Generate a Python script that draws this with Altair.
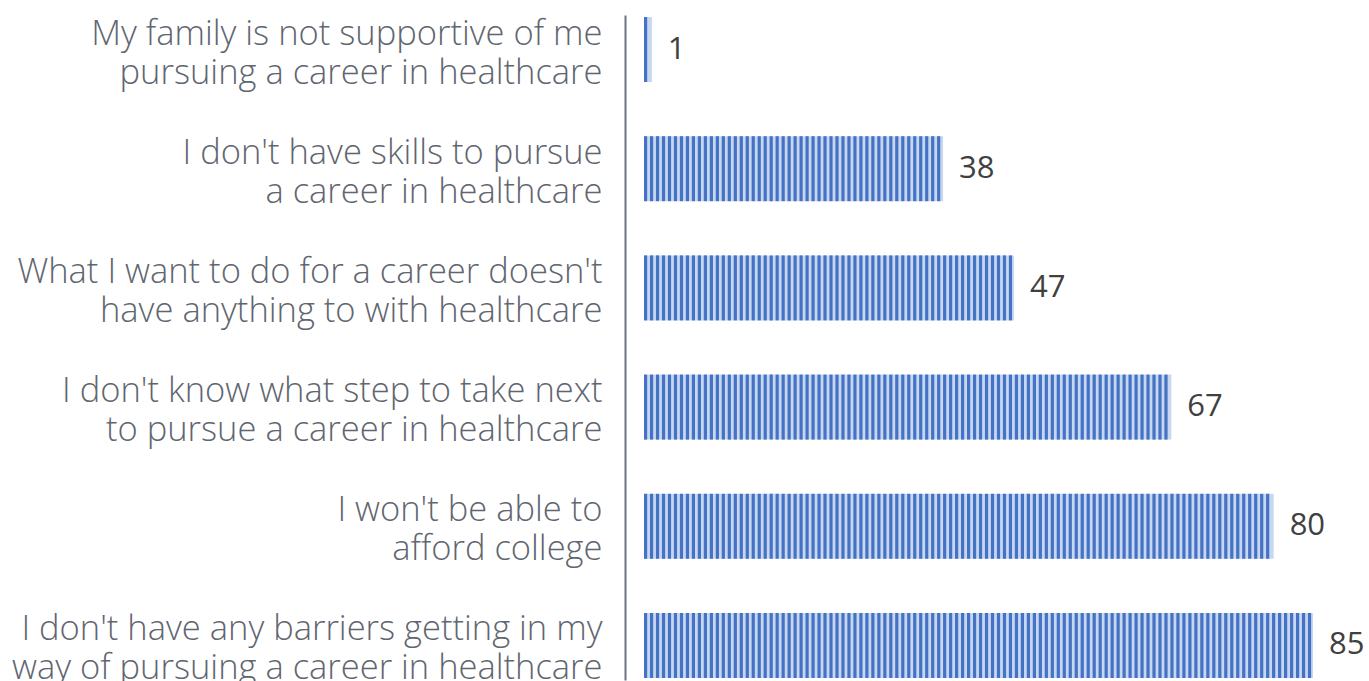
import altair as alt
import pandas as pd

categories = [
    "My family is not supportive of me\npursuing a career in healthcare",
    "I don't have skills to pursue\na career in healthcare",
    "What I want to do for a career doesn't\nhave anything to with healthcare",
    "I don't know what step to take next\nto pursue a career in healthcare",
    "I won't be able to\nafford college",
    "I don't have any barriers getting in my\nway of pursuing a career in healthcare",
]
values = [1, 38, 47, 67, 80, 85]

df = pd.DataFrame({"reason": categories, "count": values})

y_enc = alt.Y(
    "reason:N",
    sort=categories,
    scale=alt.Scale(paddingInner=0.455, paddingOuter=0.017),
    axis=alt.Axis(
        title=None,
        domain=True,
        domainColor="#6b7480",
        domainWidth=2,
        ticks=False,
        grid=False,
        offset=19,
        labelPadding=23,
        labelExpr="split(datum.label, '\\n')",
        labelFont="Open Sans",
        labelFontWeight=300,
        labelFontSize=34.5,
        labelColor="#5f6670",
        labelLimit=800,
        labelLineHeight=39,
        labelBaseline="alphabetic",
        labelOffset=-5,
    ),
)
x_scale = alt.Scale(domain=[0, 85], nice=False)
x_enc = alt.X("count:Q", scale=x_scale, axis=None)
y_plain = alt.Y("reason:N", sort=categories)

base = alt.Chart(df)

bars = base.mark_bar(color="#c8d7f0").encode(x=x_enc, y=y_enc)

stripes = (
    base.transform_calculate(s="sequence(0.2, datum.count - 0.15, 0.76)")
    .transform_flatten(["s"])
    .mark_tick(color="#4472c4", thickness=3.2, size=65, orient="vertical", opacity=1)
    .encode(x=alt.X("s:Q", scale=x_scale, axis=None), y=y_plain)
)

labels = base.mark_text(
    align="left", baseline="middle", dx=16, font="Open Sans", fontSize=31, color="#404040"
).encode(x=x_enc, y=y_plain, text="count:Q")

chart = (
    alt.layer(bars, stripes, labels)
    .properties(
        width=669,
        height=665,
        autosize="none",
        background="white",
        padding={"left": 644, "top": 15, "right": 56, "bottom": 1},
    )
    .configure_view(strokeWidth=0)
)

chart.save("out.html", embed_options={"renderer": "svg", "actions": False})
